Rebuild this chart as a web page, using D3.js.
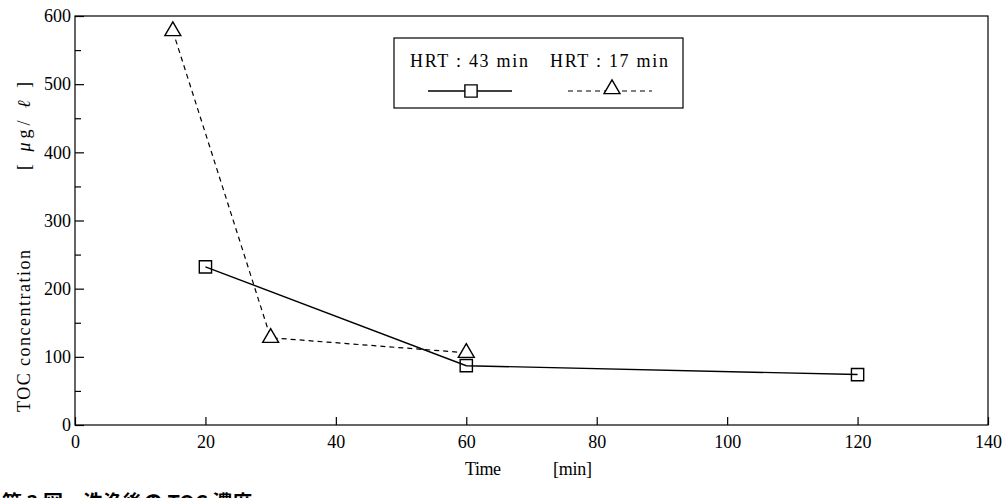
<!DOCTYPE html>
<html>
<head>
<meta charset="UTF-8">
<title>TOC concentration</title>
<script src="https://d3js.org/d3.v7.min.js"></script>
<style>
	body { margin: 0; background: white; }
	svg { display: block; font-family: "Liberation Serif", "DejaVu Serif", serif; }
	.axis path { display: none; }
	.axis line { stroke: #000; stroke-width: 1.2; }
</style>
</head>
<body>
<svg width="1007" height="498"></svg>
<script>
// data
const series43Time = [20, 60, 120];
const series43Toc = [232, 87, 74];
const series17Time = [15, 30, 60];
const series17Toc = [578, 128, 106];
const xTicks = [0, 20, 40, 60, 80, 100, 120, 140];
const yTicks = [0, 100, 200, 300, 400, 500, 600];
const yMinorTicks = [50, 150, 250, 350, 450, 550];
const legendLabels = ["HRT : 43 min", "HRT : 17 min"];

const serif = "'Liberation Serif', 'DejaVu Serif', serif";
const svg = d3.select("svg");

const x = d3.scaleLinear().domain([0, 140]).range([75, 988]);
const y = d3.scaleLinear().domain([0, 600]).range([425, 16]);

// frame
svg.append("rect")
	.attr("x", x(0)).attr("y", y(600))
	.attr("width", x(140) - x(0)).attr("height", y(0) - y(600))
	.attr("fill", "none").attr("stroke", "#000").attr("stroke-width", 1.2);

// x axis, ticks pointing inward
const xAxis = d3.axisBottom(x).tickValues(xTicks).tickSizeInner(-8).tickSizeOuter(0).tickPadding(6);
svg.append("g").attr("class", "axis")
	.attr("transform", "translate(0," + y(0) + ")")
	.call(xAxis)
	.attr("font-family", serif).attr("font-size", 18)
	.selectAll("text").attr("dy", "0.95em").attr("fill", "#000");

const yAxis = d3.axisLeft(y).tickValues(yTicks).tickSizeInner(-9).tickSizeOuter(0).tickPadding(4);
svg.append("g").attr("class", "axis")
	.attr("transform", "translate(" + x(0) + ",0)")
	.call(yAxis)
	.attr("font-family", serif).attr("font-size", 18)
	.selectAll("text").attr("fill", "#000");

const yMinor = d3.axisLeft(y).tickValues(yMinorTicks).tickSizeInner(-6).tickSizeOuter(0).tickFormat("");
svg.append("g").attr("class", "axis")
	.attr("transform", "translate(" + x(0) + ",0)")
	.call(yMinor);

// axis titles
svg.append("text").attr("x", 465).attr("y", 475).attr("font-size", 18)
	.attr("textLength", 36).attr("lengthAdjust", "spacing").text("Time");
svg.append("text").attr("x", 553).attr("y", 475).attr("font-size", 18)
	.attr("textLength", 39).attr("lengthAdjust", "spacing").text("[min]");

svg.append("text")
	.attr("transform", "translate(30,412) rotate(-90)")
	.attr("font-size", 18)
	.attr("textLength", 162).attr("lengthAdjust", "spacing")
	.text("TOC concentration");
svg.append("text")
	.attr("transform", "translate(30,170) rotate(-90)")
	.attr("font-size", 18)
	.attr("textLength", 88).attr("lengthAdjust", "spacing")
	.html("[ <tspan font-style='italic'>μ</tspan>g/ <tspan font-style='italic'>ℓ</tspan> ]");

// lines
const line = d3.line().x(d => x(d[0])).y(d => y(d[1]));
const pts43 = series43Time.map((t, i) => [t, series43Toc[i]]);
const pts17 = series17Time.map((t, i) => [t, series17Toc[i]]);

svg.append("path").datum(pts17).attr("d", line)
	.attr("fill", "none").attr("stroke", "#000").attr("stroke-width", 1.2)
	.attr("stroke-dasharray", "5,4");
svg.append("path").datum(pts43).attr("d", line)
	.attr("fill", "none").attr("stroke", "#000").attr("stroke-width", 1.4);

const square = d3.symbol().type(d3.symbolSquare).size(150);
const triangle = d3.symbol().type(d3.symbolTriangle).size(110);

svg.selectAll(".tri").data(pts17).enter().append("path")
	.attr("class", "tri")
	.attr("d", triangle)
	.attr("transform", d => "translate(" + x(d[0]) + "," + y(d[1]) + ")")
	.attr("fill", "white").attr("stroke", "#000").attr("stroke-width", 1.4);

svg.selectAll(".sq").data(pts43).enter().append("path")
	.attr("class", "sq")
	.attr("d", square)
	.attr("transform", d => "translate(" + x(d[0]) + "," + y(d[1]) + ")")
	.attr("fill", "none").attr("stroke", "#000").attr("stroke-width", 1.4);

// legend
const lg = svg.append("g");
lg.append("rect").attr("x", 394).attr("y", 38).attr("width", 289).attr("height", 70)
	.attr("fill", "white").attr("stroke", "#000").attr("stroke-width", 1.2);
lg.append("text").attr("x", 410).attr("y", 67).attr("font-size", 18)
	.attr("textLength", 118).attr("lengthAdjust", "spacing")
	.attr("xml:space", "preserve").text(legendLabels[0]);
lg.append("text").attr("x", 550).attr("y", 67).attr("font-size", 18)
	.attr("textLength", 118).attr("lengthAdjust", "spacing")
	.attr("xml:space", "preserve").text(legendLabels[1]);
lg.append("line").attr("x1", 428).attr("x2", 512).attr("y1", 91).attr("y2", 91)
	.attr("stroke", "#000").attr("stroke-width", 1.3);
lg.append("path").attr("d", square).attr("transform", "translate(471,91)")
	.attr("fill", "white").attr("stroke", "#000").attr("stroke-width", 1.4);
lg.append("line").attr("x1", 568).attr("x2", 652).attr("y1", 91).attr("y2", 91)
	.attr("stroke", "#000").attr("stroke-width", 1.2).attr("stroke-dasharray", "5,4");
lg.append("path").attr("d", triangle).attr("transform", "translate(612,89)")
	.attr("fill", "white").attr("stroke", "#000").attr("stroke-width", 1.4);

// caption, cut off at the bottom edge as in the scan
svg.append("text").attr("x", 2).attr("y", 510)
	.attr("font-family", "'Noto Sans CJK JP', sans-serif")
	.attr("font-weight", "bold").attr("font-size", 20)
	.attr("xml:space", "preserve")
	.text("第 3 図　洗浄後の TOC 濃度");
</script>
</body>
</html>
